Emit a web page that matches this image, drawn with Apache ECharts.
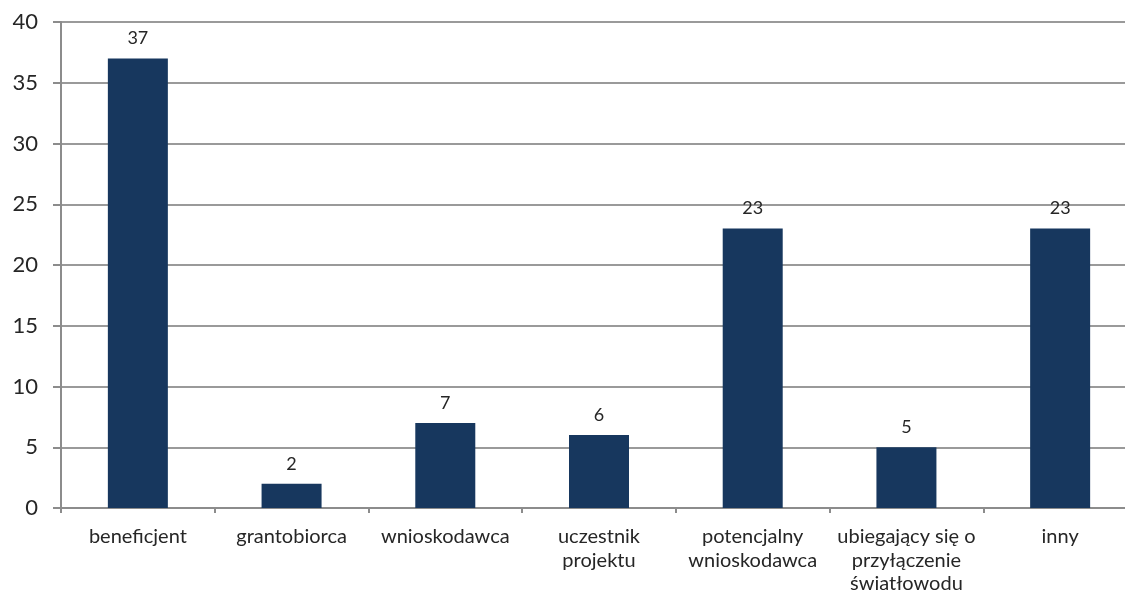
<!DOCTYPE html>
<html>
<head>
<meta charset="utf-8">
<script src="https://cdn.jsdelivr.net/npm/echarts@6/dist/echarts.min.js"></script>
<style>
    html, body { margin: 0; padding: 0; background: #fff; }
    #chart { width: 1125px; height: 595px; }
</style>
</head>
<body>
<div id="chart"></div>
<script>
    // 类目
    let categories = ['beneficjent', 'grantobiorca', 'wnioskodawca', 'uczestnik\nprojektu',
        'potencjalny\nwnioskodawca', 'ubiegający się o\nprzyłączenie\nświatłowodu', 'inny'];
    // 数值
    let values = [37, 2, 7, 6, 23, 5, 23];
    // y轴刻度
    let yMin = 0, yMax = 40, yStep = 5;

    let myChart = echarts.init(document.getElementById('chart'));
    let axisColor = '#8c8c8c';
    let fontFamily = 'Lato, "Open Sans", sans-serif';

    let option = {
        animation: false,
        grid: {
            top: 22,
            left: 61,
            width: 1076,
            height: 486,
            outerBoundsMode: 'none'
        },
        xAxis: {
            type: 'category',
            data: categories,
            axisLine: { lineStyle: { color: axisColor, width: 2 } },
            axisTick: { show: true, length: 5, lineStyle: { color: axisColor, width: 2 } },
            axisLabel: {
                interval: 0,
                margin: 17,
                color: '#262626',
                fontSize: 20,
                lineHeight: 23.5,
                fontFamily: fontFamily
            }
        },
        yAxis: {
            type: 'value',
            min: yMin,
            max: yMax,
            interval: yStep,
            axisLine: { show: true, lineStyle: { color: axisColor, width: 2 } },
            axisTick: { show: true, length: 8, lineStyle: { color: axisColor, width: 2 } },
            axisLabel: {
                margin: 23,
                color: '#262626',
                fontSize: 22,
                fontFamily: fontFamily
            },
            splitLine: { lineStyle: { color: '#9a9a9a', width: 2 } }
        },
        series: [{
            type: 'bar',
            data: values,
            barWidth: 60,
            itemStyle: { color: '#17375E' },
            label: {
                show: true,
                position: 'top',
                distance: 11,
                color: '#262626',
                fontSize: 18,
                fontFamily: fontFamily
            }
        }]
    };
    myChart.setOption(option);
</script>
</body>
</html>
